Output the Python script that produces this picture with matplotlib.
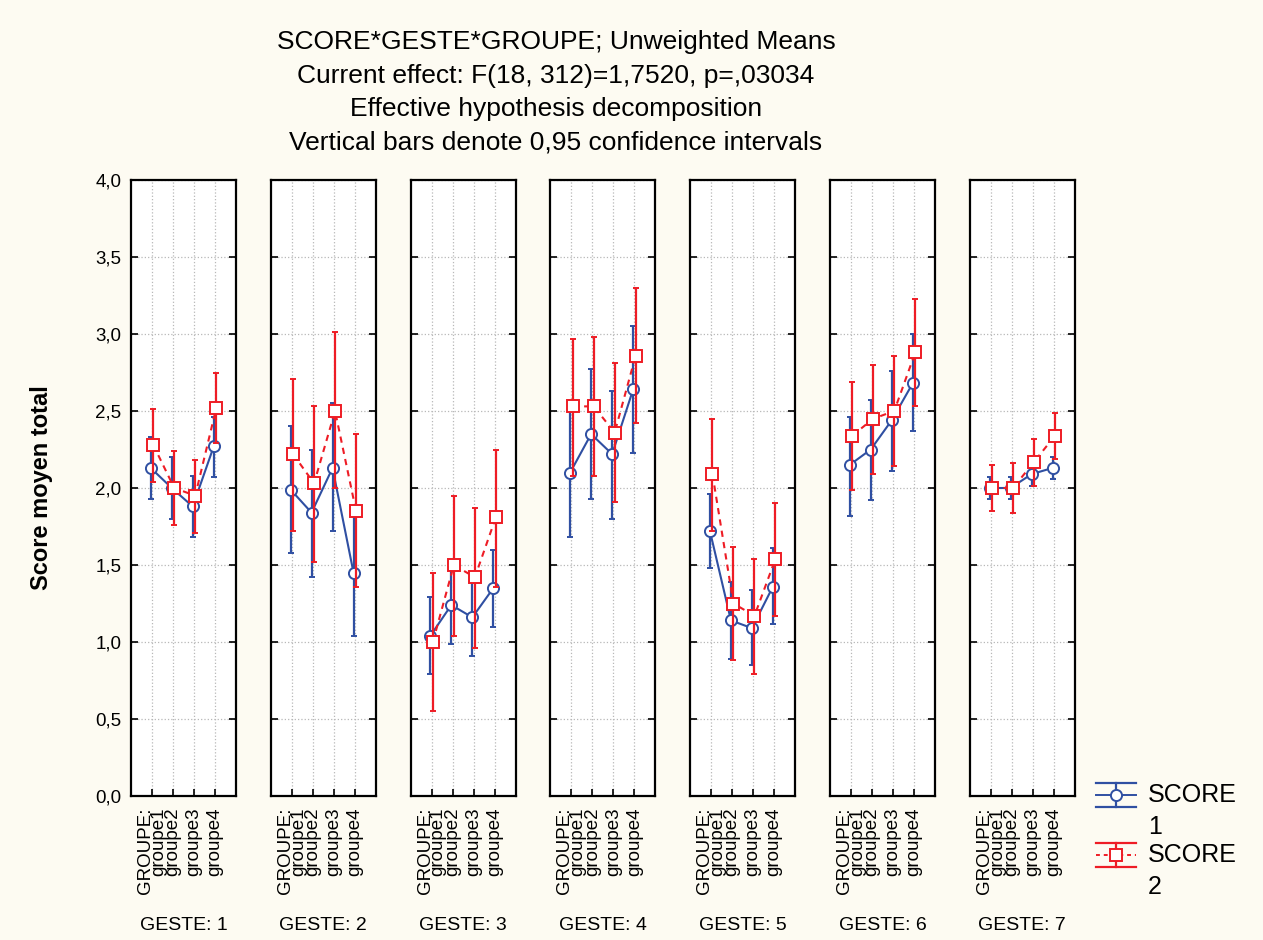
import matplotlib
matplotlib.use("Agg")
import matplotlib.pyplot as plt
from matplotlib.lines import Line2D
from matplotlib.legend_handler import HandlerBase
import numpy as np

plt.rcParams['font.family'] = ['Liberation Sans', 'DejaVu Sans']

gestes = ["1", "2", "3", "4", "5", "6", "7"]
groupes = ["groupe1", "groupe2", "groupe3", "groupe4"]

# SCORE 1 (blue): means and 0.95 CI limits per geste, per groupe
score1_mean = [
    [2.13, 2.00, 1.88, 2.27],
    [1.99, 1.84, 2.13, 1.45],
    [1.04, 1.24, 1.16, 1.35],
    [2.10, 2.35, 2.22, 2.64],
    [1.72, 1.14, 1.09, 1.36],
    [2.15, 2.25, 2.44, 2.68],
    [2.00, 2.00, 2.09, 2.13],
]
score1_low = [
    [1.93, 1.80, 1.68, 2.07],
    [1.58, 1.42, 1.72, 1.04],
    [0.79, 0.99, 0.91, 1.10],
    [1.68, 1.93, 1.80, 2.23],
    [1.48, 0.89, 0.85, 1.12],
    [1.82, 1.92, 2.11, 2.37],
    [1.93, 1.93, 2.01, 2.06],
]
score1_high = [
    [2.33, 2.20, 2.08, 2.46],
    [2.40, 2.25, 2.55, 1.86],
    [1.29, 1.49, 1.41, 1.60],
    [2.51, 2.77, 2.63, 3.05],
    [1.96, 1.39, 1.34, 1.61],
    [2.46, 2.57, 2.76, 3.00],
    [2.07, 2.07, 2.16, 2.20],
]

# SCORE 2 (red)
score2_mean = [
    [2.28, 2.00, 1.95, 2.52],
    [2.22, 2.03, 2.50, 1.85],
    [1.00, 1.50, 1.42, 1.81],
    [2.53, 2.53, 2.36, 2.86],
    [2.09, 1.25, 1.17, 1.54],
    [2.34, 2.45, 2.50, 2.88],
    [2.00, 2.00, 2.17, 2.34],
]
score2_low = [
    [2.04, 1.76, 1.71, 2.29],
    [1.72, 1.52, 2.00, 1.36],
    [0.55, 1.04, 0.96, 1.36],
    [2.08, 2.08, 1.91, 2.42],
    [1.72, 0.88, 0.79, 1.17],
    [1.99, 2.09, 2.14, 2.53],
    [1.85, 1.84, 2.01, 2.19],
]
score2_high = [
    [2.51, 2.24, 2.18, 2.75],
    [2.71, 2.53, 3.01, 2.35],
    [1.45, 1.95, 1.87, 2.25],
    [2.97, 2.98, 2.81, 3.30],
    [2.45, 1.62, 1.54, 1.90],
    [2.69, 2.80, 2.86, 3.23],
    [2.15, 2.16, 2.32, 2.49],
]

BLUE = "#2f4fa2"
RED = "#ee1c25"
BG = "#fdfbf2"


class HandlerCI(HandlerBase):
    # legend key: wide caps top and bottom, mean line with marker,
    # drawn level with the first line of a two-line label
    def __init__(self, color, ls, marker):
        super().__init__()
        self.color, self.ls, self.marker = color, ls, marker

    def create_artists(self, legend, orig_handle, xdescent, ydescent,
                       width, height, fontsize, trans):
        yc = height / 2 - ydescent + 0.68 * fontsize
        dy = 0.48 * fontsize
        x0, x1 = -xdescent, width - xdescent
        xm = (x0 + x1) / 2
        arts = [
            Line2D([x0, x1], [yc + dy, yc + dy], color=self.color, lw=1.6),
            Line2D([x0, x1], [yc - dy, yc - dy], color=self.color, lw=1.6),
            Line2D([xm, xm], [yc - dy, yc + dy], color=self.color, lw=1.6),
            Line2D([x0, x1], [yc, yc], color=self.color, lw=1.4, ls=self.ls),
            Line2D([xm], [yc], color=self.color, marker=self.marker, ms=8,
                   mfc="white", mec=self.color, mew=1.4, ls="none"),
        ]
        for a in arts:
            a.set_transform(trans)
        return arts


fig = plt.figure(figsize=(12.63, 9.4), dpi=100, facecolor=BG)

left0 = 131 / 1263
width = 105 / 1263
step = 139.8 / 1263
bottom = 1 - 796 / 940
height = (796 - 180) / 940

x = np.arange(1, 5)
yticks = np.arange(0, 4.01, 0.5)
dash = (0, (3, 2.5))

for i, g in enumerate(gestes):
    ax = fig.add_axes([left0 + i * step, bottom, width, height])
    ax.set_facecolor("white")
    m1 = np.array(score1_mean[i])
    m2 = np.array(score2_mean[i])
    e1 = [m1 - np.array(score1_low[i]), np.array(score1_high[i]) - m1]
    e2 = [m2 - np.array(score2_low[i]), np.array(score2_high[i]) - m2]
    ax.errorbar(x - 0.06, m1, yerr=e1, color=BLUE, lw=1.5, ls="-",
                marker="o", ms=8, mfc="white", mec=BLUE, mew=1.4,
                elinewidth=1.6, capsize=2, capthick=1.6, zorder=3)
    ax.errorbar(x + 0.06, m2, yerr=e2, color=RED, lw=1.5, ls=dash,
                marker="s", ms=8, mfc="white", mec=RED, mew=1.4,
                elinewidth=1.6, capsize=2, capthick=1.6, zorder=4)
    ax.set_xlim(0, 5)
    ax.set_ylim(0, 4)
    ax.set_yticks(yticks)
    ax.set_xticks(x)
    ax.set_xticklabels(["GROUPE:\n" + groupes[0]] + groupes[1:], rotation=90,
                       fontsize=13.5, ha="center", va="top",
                       multialignment="right", linespacing=0.7)
    ax.grid(True, color="#b8b8b8", ls=":", lw=0.9)
    ax.tick_params(direction="in", length=5, width=1.2, left=True, right=True,
                   bottom=True, top=False, pad=8)
    if i == 0:
        ax.set_yticklabels([f"{v:.1f}".replace(".", ",") for v in yticks],
                           fontsize=13.5)
        ax.tick_params(axis="y", pad=7)
        ax.set_ylabel("Score moyen total", fontsize=17, fontweight="bold",
                      labelpad=30)
    else:
        ax.set_yticklabels([])
    for s in ax.spines.values():
        s.set_linewidth(1.6)
        s.set_color("black")
    ax.set_xlabel("GESTE: " + g, fontsize=14)
    ax.xaxis.set_label_coords(0.5, -0.197)

title = ("SCORE*GESTE*GROUPE; Unweighted Means\n"
         "Current effect: F(18, 312)=1,7520, p=,03034\n"
         "Effective hypothesis decomposition\n"
         "Vertical bars denote 0,95 confidence intervals")
fig.text(556 / 1263, 1 - 30 / 940, title, ha="center", va="top",
         fontsize=19, linespacing=1.5)

h1 = Line2D([], [], color=BLUE)
h2 = Line2D([], [], color=RED)
leg = fig.legend([h1, h2], ["SCORE\n1", "SCORE\n2"], loc="upper left",
                 bbox_to_anchor=(1073 / 1263, 1 - 760 / 940), frameon=False,
                 fontsize=18, handlelength=1.6, labelspacing=0.15,
                 handletextpad=0.5,
                 handler_map={h1: HandlerCI(BLUE, "-", "o"),
                              h2: HandlerCI(RED, (0, (2, 2)), "s")})
for t in leg.get_texts():
    t.set_linespacing(1.45)

fig.savefig("out.png", dpi=100, facecolor=BG)
